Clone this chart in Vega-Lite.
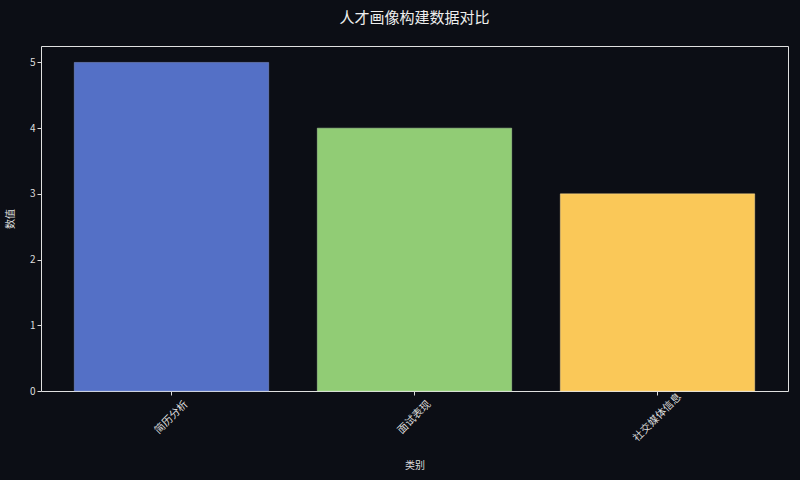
{
  "$schema": "https://vega.github.io/schema/vega-lite/v6.json",
  "description": "人才画像构建数据对比",
  "background": "#0c0e15",
  "autosize": "none",
  "padding": {"left": 41, "top": 46, "right": 12, "bottom": 89},
  "width": 747,
  "height": 345,
  "title": {
    "text": "人才画像构建数据对比",
    "color": "#eeeeee",
    "font": "Noto Sans CJK SC",
    "fontSize": 15,
    "fontWeight": "normal",
    "offset": 20,
    "anchor": "middle"
  },
  "data": {
    "values": [
      {"category": "简历分析", "value": 5},
      {"category": "面试表现", "value": 4},
      {"category": "社交媒体信息", "value": 3}
    ]
  },
  "mark": {"type": "bar", "strokeWidth": 0.8, "strokeOpacity": 0.6},
  "encoding": {
    "x": {
      "field": "category",
      "type": "nominal",
      "sort": null,
      "title": "类别",
      "scale": {"paddingInner": 0.2, "paddingOuter": 0.137},
      "axis": {
        "labelAngle": -45,
        "labelAlign": "center",
        "labelBaseline": "middle",
        "labelFontSize": 10.5,
        "labelPadding": 22,
        "titlePadding": 17
      }
    },
    "y": {
      "field": "value",
      "type": "quantitative",
      "title": "数值",
      "scale": {"domain": [0, 5.25], "nice": false},
      "axis": {"values": [0, 1, 2, 3, 4, 5], "titlePadding": 14}
    },
    "color": {
      "field": "category",
      "type": "nominal",
      "sort": null,
      "scale": {"range": ["#5470c6", "#91cc75", "#fac858"]},
      "legend": null
    },
    "stroke": {
      "field": "category",
      "type": "nominal",
      "sort": null,
      "scale": {"range": ["#8ea0dc", "#b9e0a6", "#fde0a0"]},
      "legend": null
    }
  },
  "config": {
    "font": "Noto Sans CJK SC",
    "view": {"stroke": "#e0e0e0", "strokeWidth": 1},
    "axis": {
      "grid": false,
      "domain": false,
      "tickColor": "#dddddd",
      "tickSize": 4,
      "labelColor": "#dddddd",
      "labelFont": "Noto Sans CJK SC",
      "labelFontSize": 10,
      "titleColor": "#dddddd",
      "titleFont": "Noto Sans CJK SC",
      "titleFontSize": 10,
      "titleFontWeight": "normal"
    }
  }
}
